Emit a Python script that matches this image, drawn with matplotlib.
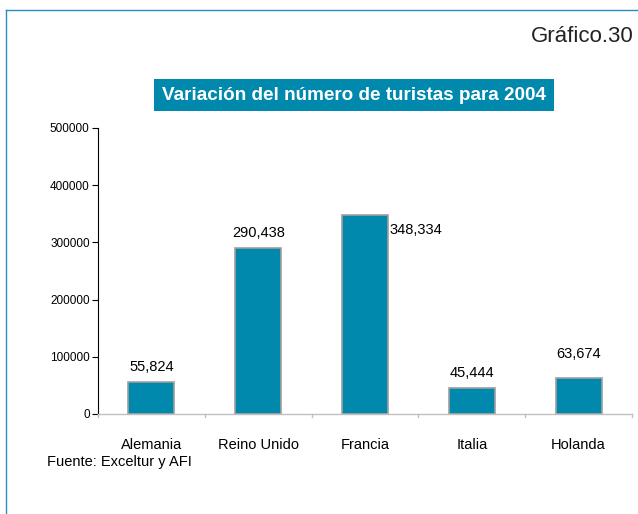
import matplotlib
matplotlib.use('Agg')
import matplotlib.pyplot as plt
from matplotlib.lines import Line2D

paises = ["Alemania", "Reino Unido", "Francia", "Italia", "Holanda"]
turistas = [55824, 290438, 348334, 45444, 63674]
etiquetas = ["55,824", "290,438", "348,334", "45,444", "63,674"]
yticks = [0, 100000, 200000, 300000, 400000, 500000]

plt.rcParams['font.family'] = ['Liberation Sans', 'DejaVu Sans']

fig = plt.figure(figsize=(6.38, 5.14), dpi=100)
ax = fig.add_axes([98/638, 100/514, 534/638, 286/514])

ancho = 0.43
x = range(len(paises))
ax.bar(x, turistas, width=ancho, color='#0088ad', edgecolor='#a0a0a0', linewidth=1.2)
ax.set_xlim(-0.5, len(paises) - 0.5)
ax.set_ylim(0, 500000)
ax.set_yticks(yticks)
ax.set_yticklabels([str(v) for v in yticks], fontsize=8.5)
ax.set_xticks(list(x))
ax.set_xticklabels(paises, fontsize=10.5)
ax.tick_params(axis='x', length=0, pad=17)
ax.tick_params(axis='y', length=4, width=0.8, pad=2)
for b in [-0.5, 0.5, 1.5, 2.5, 3.5, 4.5]:
    ax.plot([b, b], [0, -5000], color='#c0c0c0', lw=1, clip_on=False)

for s in ['top', 'right']:
    ax.spines[s].set_visible(False)
ax.spines['left'].set_color('black')
ax.spines['left'].set_linewidth(0.8)
ax.spines['bottom'].set_color('#c0c0c0')
ax.spines['bottom'].set_linewidth(1)

# etiquetas de datos
for i, (v, t) in enumerate(zip(turistas, etiquetas)):
    if paises[i] == "Francia":
        ax.annotate(t, (i + ancho / 2, v), xytext=(1, -11), textcoords='offset points',
                    ha='left', va='center', fontsize=10.5)
    else:
        dy = 12 if paises[i] == "Holanda" else 6
        ax.annotate(t, (i, v), xytext=(0, dy), textcoords='offset points',
                    ha='center', va='bottom', fontsize=10.5)

# titulo con caja
fig.text(354/638, 1 - 95/514, "Variación del número de turistas para 2004",
         ha='center', va='center', color='white', fontsize=13.6, fontweight='bold',
         bbox=dict(boxstyle='square,pad=0.4', facecolor='#0088ad', edgecolor='none'))
fig.text(634/638, 1 - 37/514, "Gráfico.30", ha='right', va='center',
         fontsize=16, color='#222222')
fig.text(47/638, 1 - 462/514, "Fuente: Exceltur y AFI", ha='left', va='center',
         fontsize=10.5)

# marco
fig.add_artist(Line2D([6/638, 1], [1 - 10/514, 1 - 10/514], color='#2a8cbf', lw=1))
fig.add_artist(Line2D([6/638, 6/638], [0, 1 - 10/514], color='#2a8cbf', lw=1))

fig.savefig('out.png', dpi=100)
